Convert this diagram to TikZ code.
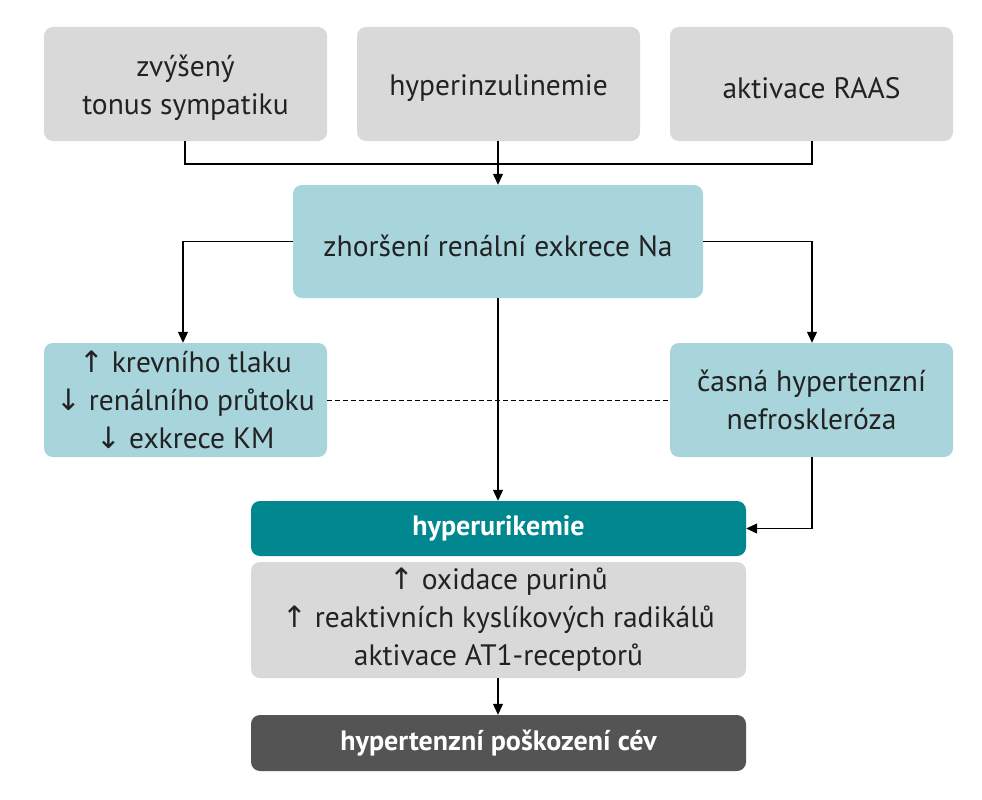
\documentclass[tikz,border=0pt]{standalone}
\usepackage{fontspec}
\setmainfont{PT Sans}
\newfontfamily\arr{DejaVu Sans}
\usetikzlibrary{arrows.meta}
\definecolor{lg}{HTML}{D9D9D9}
\definecolor{lt}{HTML}{A8D4DC}
\definecolor{dt}{HTML}{00878F}
\definecolor{dg}{HTML}{545454}
\definecolor{tx}{HTML}{222222}
\begin{document}
\begin{tikzpicture}[x=1pt,y=-1pt,
  box/.style={rounded corners=9pt,inner sep=0pt,align=center,text=tx,font=\fontsize{29.5}{38}\selectfont},
  con/.style={line width=1.2pt,-{Triangle[length=11pt,width=10pt]}},
  ln/.style={line width=1.2pt}]
\useasboundingbox (0,0) rectangle (982,800);
\fill[white] (0,0) rectangle (982,800);
\newcommand\bx[6]{\node[box,fill=#5,minimum width=#3-#1,minimum height=#4-#2] (#6) at ({(#1+#3)/2},{(#2+#4)/2}) {};}
\bx{44}{27}{327}{141}{lg}{t1}
\bx{357}{27}{640}{141}{lg}{t2}
\bx{670}{27}{953}{141}{lg}{t3}
\bx{293}{185}{703}{298}{lt}{z}
\bx{44}{343}{327}{457}{lt}{l}
\bx{670}{343}{953}{457}{lt}{r}
\bx{251}{501}{746}{556}{dt}{h}
\bx{251}{562}{746}{678}{lg}{g}
\bx{251}{715}{746}{771}{dg}{d}
\node[box] at ([yshift=-4]t1) {zvýšený\\tonus sympatiku};
\node[box] at ([yshift=-4]t2) {hyperinzulinemie};
\node[box] at ([yshift=-4]t3) {aktivace RAAS};
\node[box] at ([yshift=-4]z) {zhoršení renální exkrece Na};
\node[box] at (l) {{\arr↑} krevního tlaku\\{\arr↓} renálního průtoku\\{\arr↓} exkrece KM};
\node[box] at (r) {časná hypertenzní\\nefroskleróza};
\node[box,text=white,font=\fontsize{28}{34}\selectfont\bfseries] at (h) {hyperurikemie};
\node[box] at (g) {{\arr↑} oxidace purinů\\{\arr↑} reaktivních kyslíkových radikálů\\aktivace AT1-receptorů};
\node[box,text=white,font=\fontsize{28}{34}\selectfont\bfseries] at (d) {hypertenzní poškození cév};
\coordinate (j) at (498,164);
\draw[ln] (t1.south -| 185,0) |- (j);
\draw[ln] (t3.south -| 812,0) |- (j);
\draw[ln] (t2.south -| j) -- (j);
\draw[con] (j) -- (z.north -| j);
\draw[con] (z.west) -| (l.north -| 183,0);
\draw[con] (z.east) -| (r.north -| 812,0);
\draw[con] (z.south -| j) -- (h.north -| j);
\draw[con] (r.south -| 812,0) |- (h.east);
\draw[ln,dash pattern=on 5pt off 3pt,line width=1pt] (l.east) -- (r.west);
\draw[con] (g.south -| j) -- (d.north -| j);
\end{tikzpicture}
\end{document}
